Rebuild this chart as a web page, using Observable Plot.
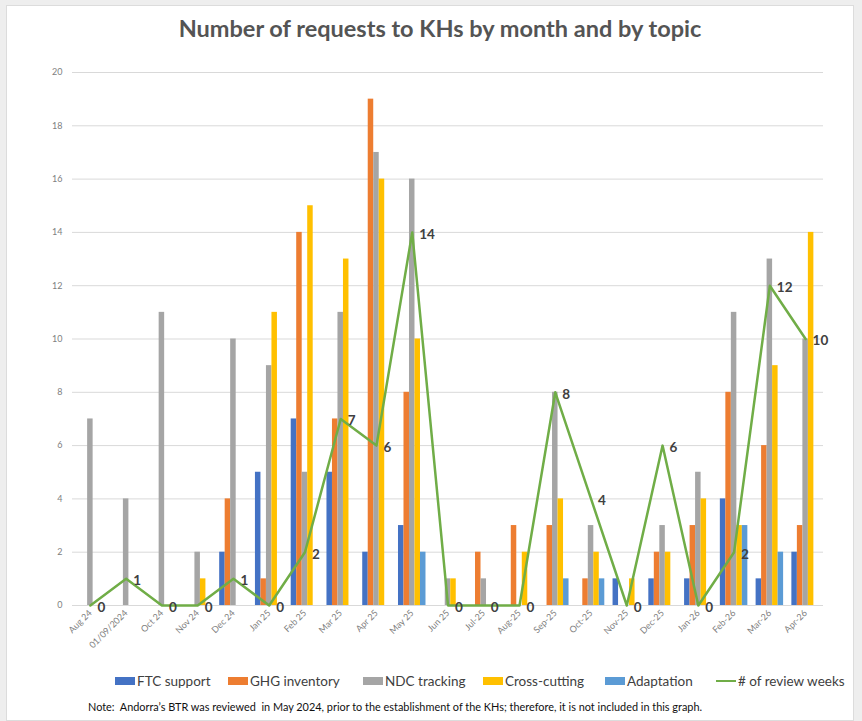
<!DOCTYPE html>
<html>
<head>
<meta charset="utf-8">
<script src="https://cdn.jsdelivr.net/npm/d3@7"></script>
<script src="https://cdn.jsdelivr.net/npm/@observablehq/plot@0.6"></script>
<style>
  html, body { margin: 0; padding: 0; background: #eeeeee; }
  #card { position: absolute; left: 6px; top: 5px; width: 848px; height: 716px; background: #fff; border: 1px solid #dcdcdc; box-sizing: border-box; }
  #title { position: absolute; left: 0; top: 14px; width: 880px; text-align: center; font-family: Lato, "Open Sans", sans-serif; font-weight: 700; font-size: 23.5px; color: #545454; }
  #chart { position: absolute; left: 0; top: 55px; }
  #legend { position: absolute; left: 0; top: 673px; width: 862px; font-family: Lato, sans-serif; font-size: 13.5px; color: #404040; }
  .item { position: absolute; top: 0; white-space: nowrap; display: flex; align-items: center; }
  .sw { display: inline-block; width: 20px; height: 8px; margin-right: 2px; }
  .ln { display: inline-block; width: 20px; height: 2.5px; margin-right: 2px; }
  #note { position: absolute; left: 88px; top: 700px; font-family: Lato, sans-serif; font-size: 10.9px; color: #111; white-space: nowrap; }
</style>
</head>
<body>
<div id="card"></div>
<div id="title">Number of requests to KHs by month and by topic</div>
<div id="chart"></div>
<div id="legend"></div>
<div id="note">Note:&nbsp; Andorra’s BTR was reviewed&nbsp; in May 2024, prior to the establishment of the KHs; therefore, it is not included in this graph.</div>
<script>
const months = ["Aug 24","01/09/2024","Oct 24","Nov 24","Dec 24","Jan 25","Feb 25","Mar 25","Apr 25","May 25","Jun 25","Jul-25","Aug-25","Sep-25","Oct-25","Nov-25","Dec-25","Jan-26","Feb-26","Mar-26","Apr-26"];
const ftcSupport   = [0,0,0,0,2,5,7,5,2,3,0,0,0,0,0,1,1,1,4,1,2];
const ghgInventory = [0,0,0,0,4,1,14,7,19,8,0,2,3,3,1,0,2,3,8,6,3];
const ndcTracking  = [7,4,11,2,10,9,5,11,17,16,1,1,0,8,3,0,3,5,11,13,10];
const crossCutting = [0,0,0,1,0,11,15,13,16,10,1,0,2,4,2,1,2,4,3,9,14];
const adaptation   = [0,0,0,0,0,0,0,0,0,2,0,0,0,1,1,0,0,0,3,2,0];
const reviewWeeks  = [0,1,0,0,1,0,2,7,6,14,0,0,0,8,4,0,6,0,2,12,10];

const seriesNames  = ["FTC support","GHG inventory","NDC tracking","Cross-cutting","Adaptation"];
const seriesValues = [ftcSupport, ghgInventory, ndcTracking, crossCutting, adaptation];
const seriesColors = ["#4472C4","#ED7D31","#A5A5A5","#FFC000","#5B9BD5"];
const lineName = "# of review weeks";
const lineColor = "#70AD47";

const width = 862, marginLeft = 72, marginRight = 39;
const bw = (width - marginLeft - marginRight) / months.length;
const barW = 5.5;
const groupStart = (bw - barW * seriesNames.length) / 2;

const bars = seriesValues.map((vals, s) => {
  const rows = months.map((m, i) => ({month: m, value: vals[i]})).filter(d => d.value > 0);
  const insetLeft = groupStart + s * barW;
  const insetRight = bw - insetLeft - barW;
  return Plot.barY(rows, {x: "month", y: "value", fill: seriesColors[s], insetLeft, insetRight});
});

const lineRows = months.map((m, i) => ({month: m, value: reviewWeeks[i]}));

const chart = Plot.plot({
  width, height: 600,
  marginLeft, marginRight, marginTop: 17, marginBottom: 50,
  style: {fontFamily: "Lato, sans-serif", background: "transparent"},
  x: {type: "band", domain: months, padding: 0, round: false},
  y: {domain: [0, 20]},
  marks: [
    Plot.gridY(d3.range(0, 21, 2), {stroke: "#d9d9d9", strokeOpacity: 1, strokeWidth: 1}),
    Plot.axisY(d3.range(0, 21, 2), {tickSize: 0, tickPadding: 10, fill: "#808080", fontSize: 9, label: null}),
    ...bars,
    Plot.ruleY([0], {stroke: "#d9d9d9", strokeWidth: 1}),
    Plot.axisX({tickSize: 0, tickRotate: -45, tickPadding: 6, fill: "#808080", fontSize: 9, label: null}),
    Plot.line(lineRows, {x: "month", y: "value", stroke: lineColor, strokeWidth: 2.5}),
    Plot.text(lineRows, {x: "month", y: "value", text: d => String(d.value), dx: 7, dy: 2, textAnchor: "start", fill: "#404040", fontSize: 13.5, fontWeight: "bold"})
  ]
});
document.getElementById("chart").appendChild(chart);

// legend
const legend = document.getElementById("legend");
const lx = [115, 228, 363, 483, 605, 716];
seriesNames.forEach((n, i) => {
  const it = document.createElement("div");
  it.className = "item"; it.style.left = lx[i] + "px";
  it.innerHTML = `<span class="sw" style="background:${seriesColors[i]}"></span>${n}`;
  legend.appendChild(it);
});
const li = document.createElement("div");
li.className = "item"; li.style.left = lx[5] + "px";
li.innerHTML = `<span class="ln" style="background:${lineColor}"></span>${lineName}`;
legend.appendChild(li);
</script>
</body>
</html>
